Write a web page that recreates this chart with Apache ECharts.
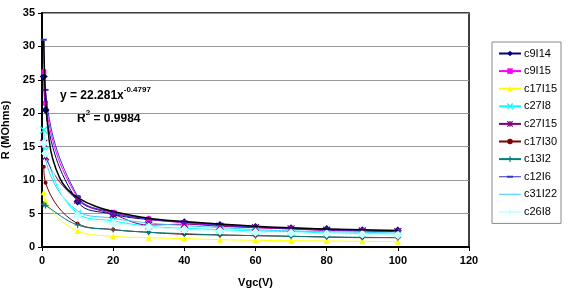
<!DOCTYPE html>
<html><head><meta charset="utf-8">
<script src="https://cdn.jsdelivr.net/npm/echarts@6/dist/echarts.min.js"></script>
<style>html,body{margin:0;padding:0;background:#fff}#c{width:576px;height:290px}</style>
</head><body><div id="c"></div>
<script>
var xValues = [0.5, 1, 10, 20, 30, 40, 50, 60, 70, 80, 90, 100];
var c9I14  = [25.5, 20.5, 6.8, 4.9, 4.1, 3.7, 3.3, 3.0, 2.8, 2.7, 2.5, 2.45];
var c9I15  = [26.2, 21.5, 7.4, 5.2, 4.2, 3.6, 3.2, 2.9, 2.7, 2.5, 2.4, 2.3];
var c17I15 = [8.2, 6.8, 2.4, 1.6, 1.4, 1.25, 1.1, 1.0, 0.95, 0.9, 0.85, 0.8];
var c27I8  = [17.5, 14.5, 5.0, 3.9, 3.1, 2.8, 2.6, 2.4, 2.3, 2.1, 2.0, 1.9];
var c27I15 = [15.5, 13.5, 7.0, 4.9, 3.3, 3.4, 3.1, 2.9, 2.7, 2.5, 2.4, 2.3];
var c17I30 = [12, 9.6, 3.5, 2.6, 2.2, 1.9, 1.8, 1.7, 1.6, 1.5, 1.4, 1.4];
var c13I2  = [6.4, 6.2, 3.3, 2.6, 2.2, 2.0, 1.8, 1.7, 1.6, 1.5, 1.45, 1.4];
var c12I6  = [31, 23.5, 7.6, 5.1, 4.2, 3.7, 3.3, 3.0, 2.8, 2.6, 2.5, 2.35];
var c31I22 = [16, 13, 5.4, 4.3, 3.6, 3.2, 2.9, 2.6, 2.4, 2.3, 2.2, 2.1];
var c26I8  = [15.5, 14, 4.7, 3.6, 3.0, 2.6, 2.4, 2.2, 2.1, 2.0, 1.9, 1.8];
var trendX = [0.5, 1, 2, 3, 5, 7, 10, 15, 20, 30, 40, 60, 80, 100];
var trendY = [30.8, 22.3, 16.0, 13.2, 10.3, 8.7, 7.4, 6.1, 5.3, 4.3, 3.8, 3.1, 2.7, 2.45];
var xTicks = [0, 20, 40, 60, 80, 100, 120];
var yTicks = [0, 5, 10, 15, 20, 25, 30, 35];

function pairs(xs, ys){ return xs.map(function(x,i){ return [x, ys[i]]; }); }
var crossPath = 'path://M0,0L10,10M10,0L0,10';
var starPath = 'path://M0,0L10,10M10,0L0,10M5,0L5,10';
var plusPath = 'path://M5,0L5,10M0,5L10,5';
var dashPath = 'path://M0,0L10,0L10,3L0,3Z';
var boxCorners = 'M0,0L0.01,0L0.01,0.01ZM9.99,3.18L10,3.18L10,3.17Z';
var legendLine = 'M0,1.375L10,1.375L10,1.825L0,1.825Z';

var defs = [
  {name:'c9I14', data:c9I14, color:'#000080', symbol:'diamond', size:8},
  {name:'c9I15', data:c9I15, color:'#FF00FF', symbol:'rect', size:5},
  {name:'c17I15', data:c17I15, color:'#FFFF00', symbol:'triangle', size:6},
  {name:'c27I8', data:c27I8, color:'#00FFFF', symbol:crossPath, size:7, stroke:true},
  {name:'c27I15', data:c27I15, color:'#800080', symbol:starPath, size:7, stroke:true},
  {name:'c17I30', data:c17I30, color:'#800000', symbol:'circle', size:4},
  {name:'c13I2', data:c13I2, color:'#008080', symbol:plusPath, size:6, stroke:true},
  {name:'c12I6', data:c12I6, color:'#3333CC', symbol:dashPath, size:[6,2],
   legendIcon:'path://' + legendLine + 'M3.6,1.15L6.4,1.15L6.4,2.05L3.6,2.05Z' + boxCorners},
  {name:'c31I22', data:c31I22, color:'#33CCFF', symbol:'none', size:0,
   legendIcon:'path://' + legendLine + boxCorners},
  {name:'c26I8', data:c26I8, color:'#CCFFFF', symbol:'diamond', size:9}
];

var series = defs.map(function(d){
  return {
    name:d.name, type:'line', smooth:0.4, data:pairs(xValues, d.data),
    symbol:d.symbol, symbolSize:d.size, showSymbol:d.symbol!=='none',
    lineStyle:{color:d.color, width:1},
    itemStyle:d.stroke ? {color:'rgba(255,255,255,0)', borderColor:d.color, borderWidth:1.2} : {color:d.color, borderWidth:0},
    color:d.color,
    emphasis:{disabled:true}, z:3
  };
});
series.push({
  name:'trend', type:'line', smooth:0.4, data:pairs(trendX, trendY), symbol:'none',
  lineStyle:{color:'#000', width:1.5}, color:'#000', z:4, emphasis:{disabled:true}
});

var legendData = defs.map(function(d){
  var item = {name:d.name};
  if (d.stroke) {
    item.itemStyle = {color:'rgba(255,255,255,0)', borderColor:d.color, borderWidth:1.2};
  }
  if (d.legendIcon) item.icon = d.legendIcon;
  return item;
});

var chart = echarts.init(document.getElementById('c'), null, {renderer:'canvas'});
chart.setOption({
  animation:false,
  backgroundColor:'#fff',
  grid:{left:42, right:107, top:13, bottom:43, show:true, borderColor:'#000', borderWidth:1.5, backgroundColor:'#fff',
        containLabel:false, outerBoundsMode:'none'},
  xAxis:{type:'value', min:xTicks[0], max:xTicks[xTicks.length-1], interval:20,
    name:'Vgc(V)', nameLocation:'middle', nameGap:30,
    nameTextStyle:{fontFamily:'Liberation Sans', fontWeight:'bold', fontSize:11, color:'#000'},
    axisLine:{lineStyle:{color:'#000', width:2}},
    axisTick:{show:true, inside:false, length:4, lineStyle:{color:'#000'}},
    axisLabel:{fontFamily:'Liberation Sans', fontWeight:'bold', fontSize:11, color:'#000', margin:8},
    splitLine:{show:false}},
  yAxis:{type:'value', min:yTicks[0], max:yTicks[yTicks.length-1], interval:5,
    name:'R (MOhms)', nameLocation:'middle', nameGap:25, nameRotate:90,
    nameTextStyle:{fontFamily:'Liberation Sans', fontWeight:'bold', fontSize:11, color:'#000'},
    axisLine:{show:true, lineStyle:{color:'#000', width:2}},
    axisTick:{show:true, length:4, lineStyle:{color:'#000'}},
    axisLabel:{fontFamily:'Liberation Sans', fontWeight:'bold', fontSize:11, color:'#000', margin:7},
    splitLine:{show:true, lineStyle:{color:'#999', width:1.2}}},
  legend:{orient:'vertical', left:492, top:42, width:70,
    data:legendData,
    backgroundColor:'#fff', borderColor:'#888', borderWidth:1, padding:[6,4,6,6],
    itemGap:6.6, itemWidth:22, itemHeight:7,
    textStyle:{fontFamily:'Liberation Sans', fontSize:11, color:'#000', padding:[0,0,0,-2]}},
  graphic:[
    {type:'text', left:60, top:86, style:{
      text:'{m|y = 22.281x}{s|-0.4797}',
      rich:{m:{fontFamily:'Liberation Sans', fontWeight:'bold', fontSize:12, color:'#000', verticalAlign:'bottom', lineHeight:16},
            s:{fontFamily:'Liberation Sans', fontWeight:'bold', fontSize:8, color:'#000', verticalAlign:'top', lineHeight:16, padding:[0,0,8,0]}}}},
    {type:'text', left:77, top:109, style:{
      text:'{m|R}{s|2}{m| = 0.9984}',
      rich:{m:{fontFamily:'Liberation Sans', fontWeight:'bold', fontSize:12, color:'#000', verticalAlign:'bottom', lineHeight:16},
            s:{fontFamily:'Liberation Sans', fontWeight:'bold', fontSize:8, color:'#000', verticalAlign:'top', lineHeight:16, padding:[0,0,8,0]}}}}
  ],
  series:series
});
</script></body></html>
